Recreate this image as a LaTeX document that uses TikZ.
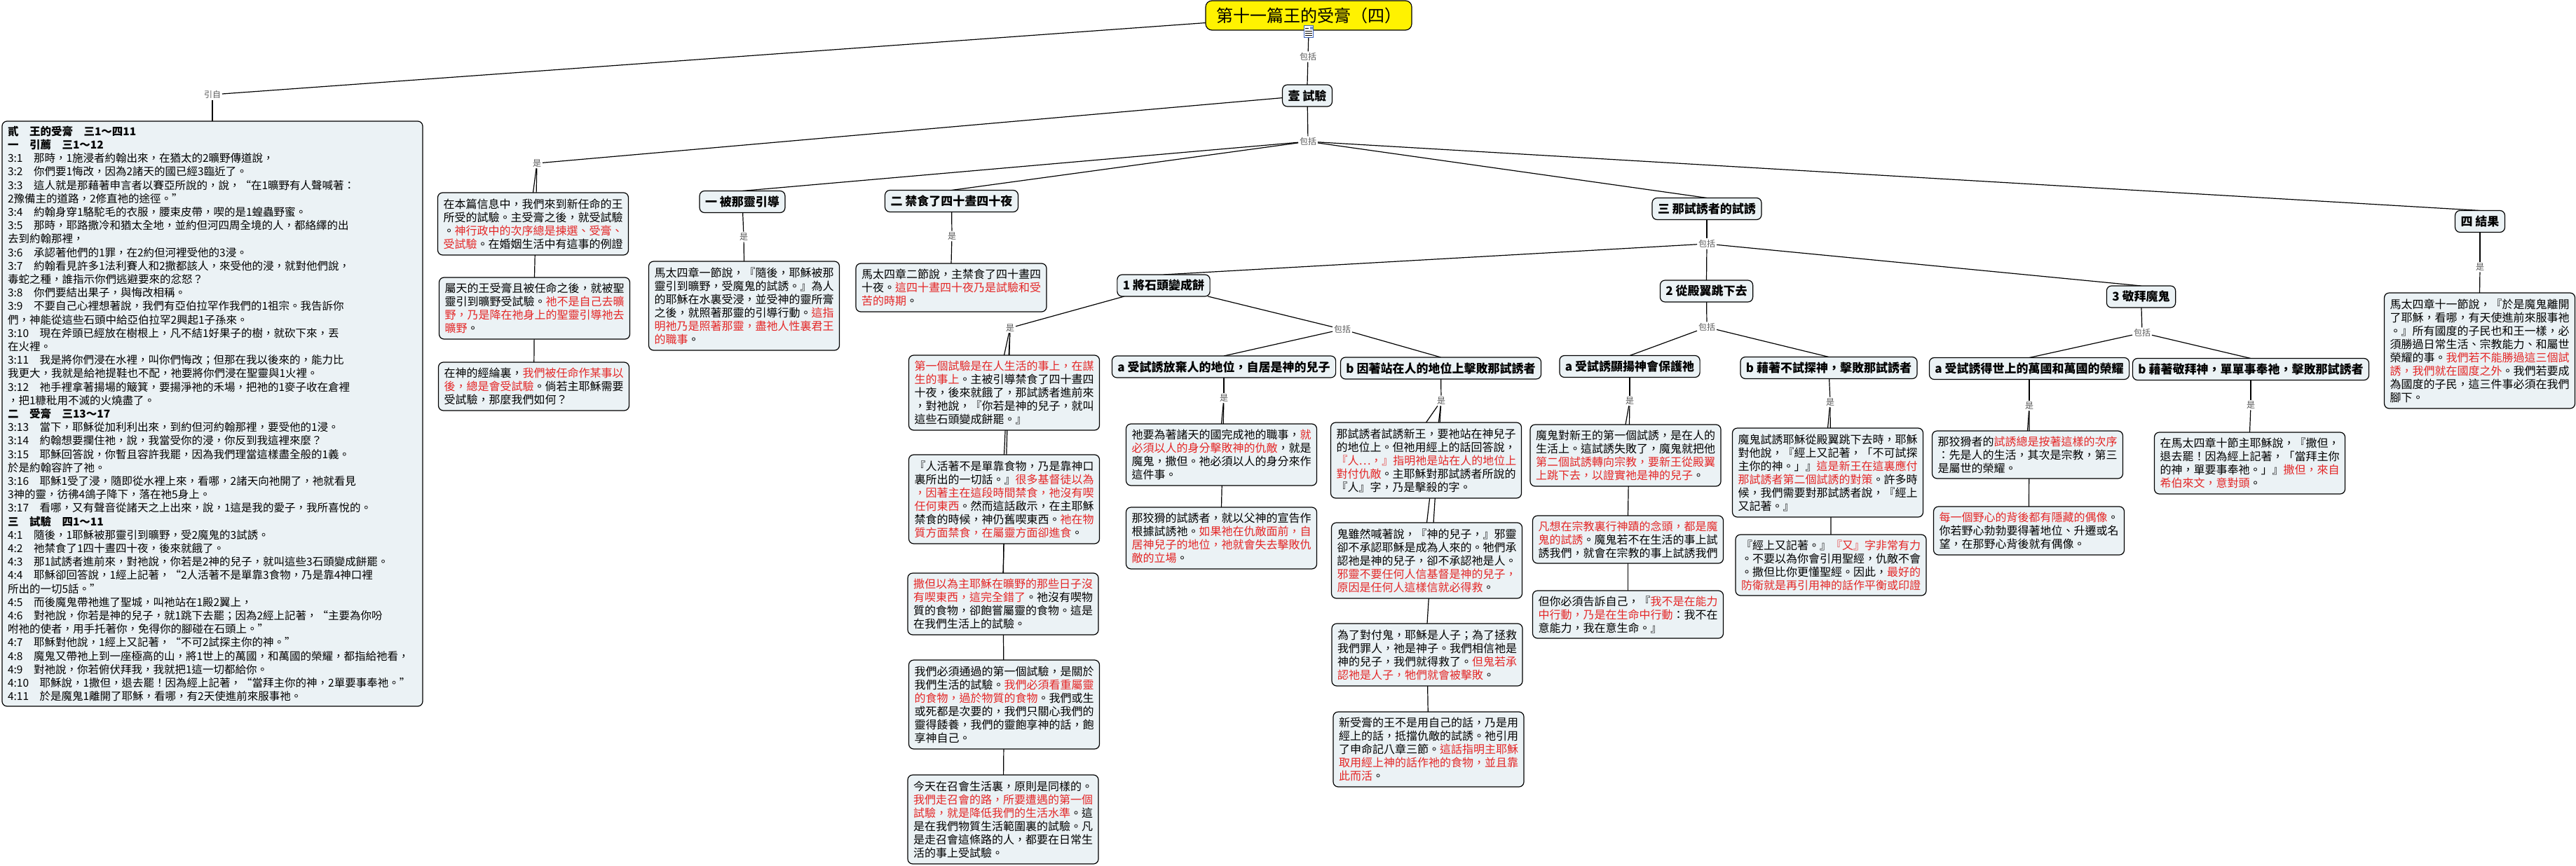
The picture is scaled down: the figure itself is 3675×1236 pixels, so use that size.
\documentclass[tikz,border=0pt]{standalone}
\usepackage{fontspec}
\setmainfont{Noto Sans CJK TC}
\pgfdeclarelayer{bg}
\pgfsetlayers{bg,main}
\definecolor{boxfill}{RGB}{235,242,245}
\definecolor{redtxt}{RGB}{228,38,38}
\definecolor{labgray}{RGB}{90,90,90}
\definecolor{icblue}{RGB}{60,100,190}
\newcommand{\rt}[1]{\textcolor{redtxt}{#1}}
\begin{document}
\begin{tikzpicture}[x=1pt,y=-1pt,
  every node/.style={inner sep=0pt, outer sep=0pt},
  box/.style={draw=black, line width=1.2pt, fill=boxfill, rounded corners=7pt, inner xsep=8pt, inner ysep=4pt, text width=256pt, align=left, font=\fontsize{16pt}{19pt}\selectfont, minimum width=272pt},
  hbox/.style={draw=black, line width=1.2pt, fill=boxfill, rounded corners=7pt, inner xsep=8pt, inner ysep=3pt, font=\fontsize{17pt}{20pt}\selectfont\bfseries, minimum height=31pt},
  lab/.style={font=\fontsize{12pt}{12pt}\selectfont, text=labgray, inner sep=2pt},
  conn/.style={draw=black, line width=1.2pt}
]
\useasboundingbox (0,0) rectangle (3675,1236);

% title
\node[draw=black, line width=1.2pt, fill=yellow, rounded corners=9pt, minimum width=294pt, minimum height=42pt, font=\fontsize{24pt}{26pt}\selectfont] (title) at (1867,22) {第十一篇王的受膏（四）};
\node[draw=icblue, line width=1pt, fill=white, minimum width=13pt, minimum height=17pt] (icon) at (1867,45) {};
\fill[icblue!70] (1869,38) rectangle (1873,42);
\draw[black, line width=0.8pt] (1862,40)--(1867,40) (1862,44)--(1872,44) (1862,47)--(1872,47) (1862,50)--(1872,50);

% labels
\node[lab] (yz) at (303,135) {引自};
\node[lab] (bkt) at (1866,81) {包括};
\node[lab] (bk0) at (1866,202) {包括};
\node[lab] (shiA) at (766,233) {是};
\node[lab] (shi1) at (1061,338) {是};
\node[lab] (shi2) at (1358,337) {是};
\node[lab] (bk3) at (2435,348) {包括};
\node[lab] (shi4) at (3538,381) {是};
\node[lab] (shiR) at (1441,468) {是};
\node[lab] (bk1) at (1915,470) {包括};
\node[lab] (shia1) at (1746,568) {是};
\node[lab] (shib1) at (2056,572) {是};
\node[lab] (bk2) at (2435,467) {包括};
\node[lab] (shia2) at (2325,572) {是};
\node[lab] (shib2) at (2611,574) {是};
\node[lab] (bk3b) at (3056,475) {包括};
\node[lab] (shia3) at (2895,579) {是};
\node[lab] (shib3) at (3211,578) {是};

% headers
\node[hbox] (n0) at (1865,136.5) {壹 試驗};
\node[hbox] (h1) at (1059,288) {一 被那靈引導};
\node[hbox] (h2) at (1357.5,287) {二 禁食了四十晝四十夜};
\node[hbox] (h3) at (2435,298) {三 那試誘者的試誘};
\node[hbox] (h4) at (3538,316) {四 結果};
\node[hbox] (n1) at (1660,407.5) {1 將石頭變成餅};
\node[hbox] (n2) at (2434.5,415.5) {2 從殿翼跳下去};
\node[hbox] (n3) at (3054.5,423.5) {3 敬拜魔鬼};
\node[hbox] (a1) at (1746,523.5) {a 受試誘放棄人的地位，自居是神的兒子};
\node[hbox] (b1) at (2055.5,525.5) {b 因著站在人的地位上擊敗那試誘者};
\node[hbox] (a2) at (2325,523) {a 受試誘顯揚神會保護祂};
\node[hbox] (b2) at (2609,525) {b 藉著不試探神，擊敗那試誘者};
\node[hbox] (a3) at (2895,526) {a 受試誘得世上的萬國和萬國的榮耀};
\node[hbox] (b3) at (3211,527) {b 藉著敬拜神，單單事奉祂，擊敗那試誘者};

% left scripture box
\node[box, text width=584pt, minimum width=600pt, minimum height=835pt, inner ysep=6pt, font=\fontsize{15.5pt}{19.2pt}\selectfont] (left) at (303,590.5) {%
{\bfseries 貳　王的受膏　三1～四11}\\
{\bfseries 一　引薦　三1～12}\\
3:1　那時，1施浸者約翰出來，在猶太的2曠野傳道說，\\
3:2　你們要1悔改，因為2諸天的國已經3臨近了。\\
3:3　這人就是那藉著申言者以賽亞所說的，說，“在1曠野有人聲喊著：\\
2豫備主的道路，2修直祂的途徑。”\\
3:4　約翰身穿1駱駝毛的衣服，腰束皮帶，喫的是1蝗蟲野蜜。\\
3:5　那時，耶路撒冷和猶太全地，並約但河四周全境的人，都絡繹的出\\
去到約翰那裡，\\
3:6　承認著他們的1罪，在2約但河裡受他的3浸。\\
3:7　約翰看見許多1法利賽人和2撒都該人，來受他的浸，就對他們說，\\
毒蛇之種，誰指示你們逃避要來的忿怒？\\
3:8　你們要結出果子，與悔改相稱。\\
3:9　不要自己心裡想著說，我們有亞伯拉罕作我們的1祖宗。我告訴你\\
們，神能從這些石頭中給亞伯拉罕2興起1子孫來。\\
3:10　現在斧頭已經放在樹根上，凡不結1好果子的樹，就砍下來，丟\\
在火裡。\\
3:11　我是將你們浸在水裡，叫你們悔改；但那在我以後來的，能力比\\
我更大，我就是給祂提鞋也不配，祂要將你們浸在聖靈與1火裡。\\
3:12　祂手裡拿著揚場的簸箕，要揚淨祂的禾場，把祂的1麥子收在倉裡\\
，把1糠秕用不滅的火燒盡了。\\
{\bfseries 二　受膏　三13～17}\\
3:13　當下，耶穌從加利利出來，到約但河約翰那裡，要受他的1浸。\\
3:14　約翰想要攔住祂，說，我當受你的浸，你反到我這裡來麼？\\
3:15　耶穌回答說，你暫且容許我罷，因為我們理當這樣盡全般的1義。\\
於是約翰容許了祂。\\
3:16　耶穌1受了浸，隨即從水裡上來，看哪，2諸天向祂開了，祂就看見\\
3神的靈，彷彿4鴿子降下，落在祂5身上。\\
3:17　看哪，又有聲音從諸天之上出來，說，1這是我的愛子，我所喜悅的。\\
{\bfseries 三　試驗　四1～11}\\
4:1　隨後，1耶穌被那靈引到曠野，受2魔鬼的3試誘。\\
4:2　祂禁食了1四十晝四十夜，後來就餓了。\\
4:3　那1試誘者進前來，對祂說，你若是2神的兒子，就叫這些3石頭變成餅罷。\\
4:4　耶穌卻回答說，1經上記著，“2人活著不是單靠3食物，乃是靠4神口裡\\
所出的一切5話。”\\
4:5　而後魔鬼帶祂進了聖城，叫祂站在1殿2翼上，\\
4:6　對祂說，你若是神的兒子，就1跳下去罷；因為2經上記著，“主要為你吩\\
咐祂的使者，用手托著你，免得你的腳碰在石頭上。”\\
4:7　耶穌對他說，1經上又記著，“不可2試探主你的神。”\\
4:8　魔鬼又帶祂上到一座極高的山，將1世上的萬國，和萬國的榮耀，都指給祂看，\\
4:9　對祂說，你若俯伏拜我，我就把1這一切都給你。\\
4:10　耶穌說，1撒但，退去罷！因為經上記著，“當拜主你的神，2單要事奉祂。”\\
4:11　於是魔鬼1離開了耶穌，看哪，有2天使進前來服事祂。};

% column A
\node[box, minimum height=89pt] (A) at (760.5,319.5) {在本篇信息中，我們來到新任命的王\\所受的試驗。主受膏之後，就受試驗\\。\rt{神行政中的次序總是揀選、受膏、}\\\rt{受試驗}。在婚姻生活中有這事的例證};
\node[box, minimum height=88pt] (B) at (762.5,440) {屬天的王受膏且被任命之後，就被聖\\靈引到曠野受試驗。\rt{祂不是自己去曠}\\\rt{野，乃是降在祂身上的聖靈引導祂去}\\\rt{曠野}。};
\node[box, minimum height=69pt] (C) at (761.5,551.5) {在神的經綸裏，\rt{我們被任命作某事以}\\\rt{後，總是會受試驗}。倘若主耶穌需要\\受試驗，那麼我們如何？};

\node[box, minimum height=127pt] (D) at (1061.5,436.5) {馬太四章一節說，『隨後，耶穌被那\\靈引到曠野，受魔鬼的試誘。』為人\\的耶穌在水裏受浸，並受神的靈所膏\\之後，就照著那靈的引導行動。\rt{這指}\\\rt{明祂乃是照著那靈，盡祂人性裏君王}\\\rt{的職事}。};
\node[box, minimum height=69pt] (F) at (1357,410.5) {馬太四章二節說，主禁食了四十晝四\\十夜。\rt{這四十晝四十夜乃是試驗和受}\\\rt{苦的時期}。};

% column r
\node[box, minimum height=107pt] (r1) at (1432.5,560.5) {\rt{第一個試驗是在人生活的事上，在謀}\\\rt{生的事上}。主被引導禁食了四十晝四\\十夜，後來就餓了，那試誘者進前來\\，對祂說，『你若是神的兒子，就叫\\這些石頭變成餅罷。』};
\node[box, minimum height=127pt] (r2) at (1432.5,712.5) {『人活著不是單靠食物，乃是靠神口\\裏所出的一切話。』\rt{很多基督徒以為}\\\rt{，因著主在這段時間禁食，祂沒有喫}\\\rt{任何東西}。然而這話啟示，在主耶穌\\禁食的時候，神仍舊喫東西。\rt{祂在物}\\\rt{質方面禁食，在屬靈方面卻進食}。};
\node[box, minimum height=88pt] (r3) at (1431,862) {\rt{撒但以為主耶穌在曠野的那些日子沒}\\\rt{有喫東西，這完全錯了}。祂沒有喫物\\質的食物，卻飽嘗屬靈的食物。這是\\在我們生活上的試驗。};
\node[box, minimum height=127pt] (r4) at (1432.5,1005.5) {我們必須通過的第一個試驗，是關於\\我們生活的試驗。\rt{我們必須看重屬靈}\\\rt{的食物，過於物質的食物}。我們或生\\或死都是次要的，我們只關心我們的\\靈得餧養，我們的靈飽享神的話，飽\\享神自己。};
\node[box, minimum height=127pt] (r5) at (1431,1169.5) {今天在召會生活裏，原則是同樣的。\\\rt{我們走召會的路，所要遭遇的第一個}\\\rt{試驗，就是降低我們的生活水準}。這\\是在我們物質生活範圍裏的試驗。凡\\是走召會這條路的人，都要在日常生\\活的事上受試驗。};

% column 1a
\node[box, minimum height=88pt] (a1d1) at (1742.5,649) {祂要為著諸天的國完成祂的職事，\rt{就}\\\rt{必須以人的身分擊敗神的仇敵}，就是\\魔鬼，撒但。祂必須以人的身分來作\\這件事。};
\node[box, minimum height=88pt] (a1d2) at (1742.5,768) {那狡猾的試誘者，就以父神的宣告作\\根據試誘祂。\rt{如果祂在仇敵面前，自}\\\rt{居神兒子的地位，祂就會失去擊敗仇}\\\rt{敵的立場}。};

% column 1b
\node[box, minimum height=108pt] (b1d1) at (2034.5,657) {那試誘者試誘新王，要祂站在神兒子\\的地位上。但祂用經上的話回答說，\\\rt{『人…，』指明祂是站在人的地位上}\\\rt{對付仇敵}。主耶穌對那試誘者所說的\\『人』字，乃是擊殺的字。};
\node[box, minimum height=108pt] (b1d2) at (2035.5,800) {鬼雖然喊著說，『神的兒子，』邪靈\\卻不承認耶穌是成為人來的。牠們承\\認祂是神的兒子，卻不承認祂是人。\\\rt{邪靈不要任何人信基督是神的兒子，}\\\rt{原因是任何人這樣信就必得救}。};
\node[box, minimum height=89pt] (b1d3) at (2036,934.5) {為了對付鬼，耶穌是人子；為了拯救\\我們罪人，祂是神子。我們相信祂是\\神的兒子，我們就得救了。\rt{但鬼若承}\\\rt{認祂是人子，牠們就會被擊敗}。};
\node[box, minimum height=107pt] (b1d4) at (2038,1069.5) {新受膏的王不是用自己的話，乃是用\\經上的話，抵擋仇敵的試誘。祂引用\\了申命記八章三節。\rt{這話指明主耶穌}\\\rt{取用經上神的話作祂的食物，並且靠}\\\rt{此而活}。};

% column 2a
\node[box, minimum height=88pt] (a2d1) at (2319,650) {魔鬼對新王的第一個試誘，是在人的\\生活上。這試誘失敗了，魔鬼就把他\\\rt{第二個試誘轉向宗教，要新王從殿翼}\\\rt{上跳下去，以證實祂是神的兒子}。};
\node[box, minimum height=68pt] (a2d2) at (2322.5,770) {\rt{凡想在宗教裏行神蹟的念頭，都是魔}\\\rt{鬼的試誘}。魔鬼若不在生活的事上試\\誘我們，就會在宗教的事上試誘我們};
\node[box, minimum height=68pt] (a2d3) at (2322.5,877) {但你必須告訴自己，『\rt{我不是在能力}\\\rt{中行動，乃是在生命中行動}：我不在\\意能力，我在意生命。』};

% column 2b
\node[box, minimum height=127pt] (b2d1) at (2607.5,674.5) {魔鬼試誘耶穌從殿翼跳下去時，耶穌\\對他說，『經上又記著，「不可試探\\主你的神。」』\rt{這是新王在這裏應付}\\\rt{那試誘者第二個試誘的對策}。許多時\\候，我們需要對那試誘者說，『經上\\又記著。』};
\node[box, minimum height=87pt] (b2d2) at (2612,806.5) {『經上又記著。』\rt{『又』字非常有力}\\。不要以為你會引用聖經，仇敵不會\\。撒但比你更懂聖經。因此，\rt{最好的}\\\rt{防衛就是再引用神的話作平衡或印證}};

% column 3a / 3b
\node[box, minimum height=68pt] (a3d1) at (2892.5,649) {那狡猾者的\rt{試誘總是按著這樣的次序}\\：先是人的生活，其次是宗教，第三\\是屬世的榮耀。};
\node[box, minimum height=69pt] (a3d2) at (2894.5,757.5) {\rt{每一個野心的背後都有隱藏的偶像}。\\你若野心勃勃要得著地位、升遷或名\\望，在那野心背後就有偶像。};
\node[box, minimum height=88pt] (b3d1) at (3209.5,661) {在馬太四章十節主耶穌說，『撒但，\\退去罷！因為經上記著，「當拜主你\\的神，單要事奉祂。」』\rt{撒但，來自}\\\rt{希伯來文，意對頭}。};

% result
\node[box, minimum height=165pt] (G) at (3537.5,500.5) {馬太四章十一節說，『於是魔鬼離開\\了耶穌，看哪，有天使進前來服事祂\\。』所有國度的子民也和王一樣，必\\須勝過日常生活、宗教能力、和屬世\\榮耀的事。\rt{我們若不能勝過這三個試}\\\rt{誘，我們就在國度之外}。我們若要成\\為國度的子民，這三件事必須在我們\\腳下。};

% connectors
\begin{pgfonlayer}{bg}
\draw[conn] (title) -- (yz);
\draw[conn] (yz) -- (left.north);
\draw[conn] (icon) -- (bkt);
\draw[conn] (bkt) -- (n0.north);
\draw[conn] (n0) -- (shiA);
\draw[conn] (shiA) -- (A.north);
\draw[conn] (shiA) -- (B.north);
\draw[conn] (B) -- (C);
\draw[conn] (n0) -- (bk0);
\draw[conn] (bk0) -- (h1.north);
\draw[conn] (bk0) -- (h2.north);
\draw[conn] (bk0) -- (h3.north);
\draw[conn] (bk0) -- (h4.north);
\draw[conn] (h1) -- (shi1);
\draw[conn] (shi1) -- (D.north);
\draw[conn] (h2) -- (shi2);
\draw[conn] (shi2) -- (F.north);
\draw[conn] (h4) -- (shi4);
\draw[conn] (shi4) -- (G.north);
\draw[conn] (h3) -- (bk3);
\draw[conn] (bk3) -- (n1.north);
\draw[conn] (bk3) -- (n2.north);
\draw[conn] (bk3) -- (n3.north);
\draw[conn] (n1) -- (shiR);
\draw[conn] (shiR) -- (r1.north);
\draw[conn] (shiR) -- (r2.north);
\draw[conn] (shiR) -- (r3.north);
\draw[conn] (r2) -- (r3);
\draw[conn] (r3) -- (r4);
\draw[conn] (r4) -- (r5);
\draw[conn] (n1) -- (bk1);
\draw[conn] (bk1) -- (a1.north);
\draw[conn] (bk1) -- (b1.north);
\draw[conn] (a1) -- (shia1);
\draw[conn] (shia1) -- (a1d1.north);
\draw[conn] (shia1) -- (a1d2.north);
\draw[conn] (b1) -- (shib1);
\draw[conn] (shib1) -- (b1d1.north);
\draw[conn] (shib1) -- (b1d2.north);
\draw[conn] (shib1) -- (b1d3.north);
\draw[conn] (b1d3) -- (b1d4);
\draw[conn] (n2) -- (bk2);
\draw[conn] (bk2) -- (a2.north);
\draw[conn] (bk2) -- (b2.north);
\draw[conn] (a2) -- (shia2);
\draw[conn] (shia2) -- (a2d1.north);
\draw[conn] (shia2) -- (a2d2.north);
\draw[conn] (a2d2) -- (a2d3);
\draw[conn] (b2) -- (shib2);
\draw[conn] (shib2) -- (b2d1.north);
\draw[conn] (shib2) -- (b2d2.north);
\draw[conn] (n3) -- (bk3b);
\draw[conn] (bk3b) -- (a3.north);
\draw[conn] (bk3b) -- (b3.north);
\draw[conn] (a3) -- (shia3);
\draw[conn] (shia3) -- (a3d1.north);
\draw[conn] (shia3) -- (a3d2.north);
\draw[conn] (b3) -- (shib3);
\draw[conn] (shib3) -- (b3d1.north);
\end{pgfonlayer}
\end{tikzpicture}
\end{document}
